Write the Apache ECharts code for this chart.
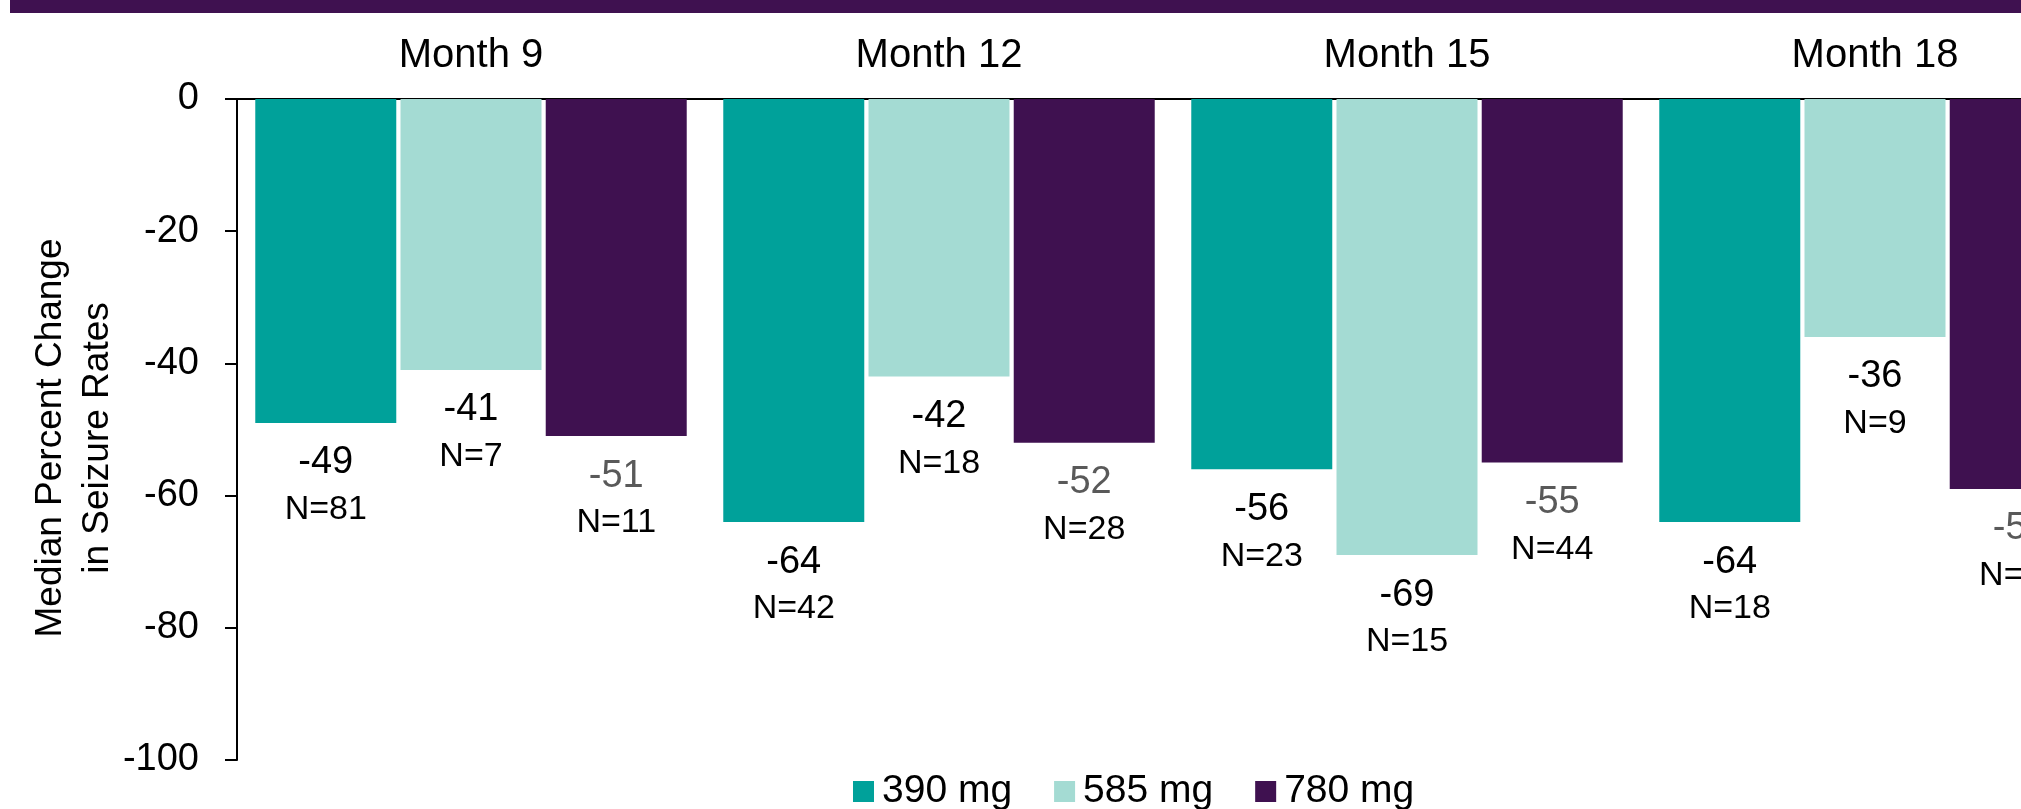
<!DOCTYPE html>
<html>
<head>
<meta charset="utf-8">
<script src="https://cdn.jsdelivr.net/npm/echarts@6/dist/echarts.min.js"></script>
<style>
  html, body { margin: 0; padding: 0; background: #ffffff; overflow: hidden; }
  /* The plot runs past the right edge of the page, so the last group is cut off */
  #chart { width: 2112px; height: 809px; }
</style>
</head>
<body>
<div id="chart"></div>
<script>
// Time points (category axis)
const months = ['Month 9', 'Month 12', 'Month 15', 'Month 18'];

// Median percent change in seizure rates per dose
const dose390 = [-49, -64, -56, -64];
const dose585 = [-41, -42, -69, -36];
const dose780 = [-51, -52, -55, -59];

// Patients per group
const n390 = [81, 42, 23, 18];
const n585 = [7, 18, 15, 9];
const n780 = [11, 28, 44, 27];

// Value-axis ticks
const yMin = -100;
const yMax = 0;
const yStep = 20;

const FONT = '"Liberation Sans", Arial, sans-serif';

function makeSeries(name, values, counts, color, valueColor) {
  return {
    name: name,
    type: 'bar',
    barWidth: 141,
    barGap: '3%',
    itemStyle: { color: color },
    data: values.map((v, i) => ({ value: v, n: counts[i] })),
    label: {
      show: true,
      position: 'bottom',
      distance: 16,
      align: 'center',
      formatter: p => '{v|' + p.value + '}\n{n|N=' + p.data.n + '}',
      rich: {
        v: { fontFamily: FONT, fontSize: 38, lineHeight: 48, color: valueColor, align: 'center' },
        n: { fontFamily: FONT, fontSize: 34, lineHeight: 46, color: '#000000', align: 'center' }
      }
    }
  };
}

const chart = echarts.init(document.getElementById('chart'), null, { renderer: 'canvas' });

chart.setOption({
  animation: false,
  backgroundColor: '#ffffff',
  textStyle: { fontFamily: FONT },
  grid: { left: 237, top: 99, width: 1872, height: 661, containLabel: false },
  legend: {
    left: 853,
    top: 772,
    padding: 0,
    icon: 'rect',
    itemWidth: 21,
    itemHeight: 21,
    itemGap: 42,
    textStyle: { fontFamily: FONT, fontSize: 39, color: '#000000', padding: [0, 0, 0, 3] },
    data: ['390 mg', '585 mg', '780 mg']
  },
  xAxis: {
    type: 'category',
    position: 'top',
    data: months,
    axisLine: { show: true, lineStyle: { color: '#000000', width: 2 } },
    axisTick: { show: false },
    axisLabel: { fontFamily: FONT, fontSize: 40, color: '#000000', margin: 23 },
    splitLine: { show: false }
  },
  yAxis: {
    type: 'value',
    min: yMin,
    max: yMax,
    interval: yStep,
    axisLine: { show: true, lineStyle: { color: '#000000', width: 2 } },
    axisTick: { show: true, inside: false, length: 12, lineStyle: { color: '#000000', width: 2 } },
    axisLabel: { fontFamily: FONT, fontSize: 38, color: '#000000', margin: 38 },
    splitLine: { show: false }
  },
  graphic: [
    {
      type: 'rect',
      left: 10,
      top: 0,
      shape: { width: 2102, height: 13 },
      style: { fill: '#3F1150' },
      silent: true
    },
    {
      type: 'text',
      x: 74,
      y: 438,
      rotation: Math.PI / 2,
      style: {
        text: 'Median Percent Change\nin Seizure Rates',
        fontFamily: FONT,
        fontSize: 37,
        lineHeight: 47,
        fill: '#000000',
        align: 'center',
        verticalAlign: 'middle'
      },
      silent: true
    }
  ],
  series: [
    makeSeries('390 mg', dose390, n390, '#00A19A', '#000000'),
    makeSeries('585 mg', dose585, n585, '#A4DBD3', '#000000'),
    makeSeries('780 mg', dose780, n780, '#3F1150', '#595959')
  ]
});
</script>
</body>
</html>
